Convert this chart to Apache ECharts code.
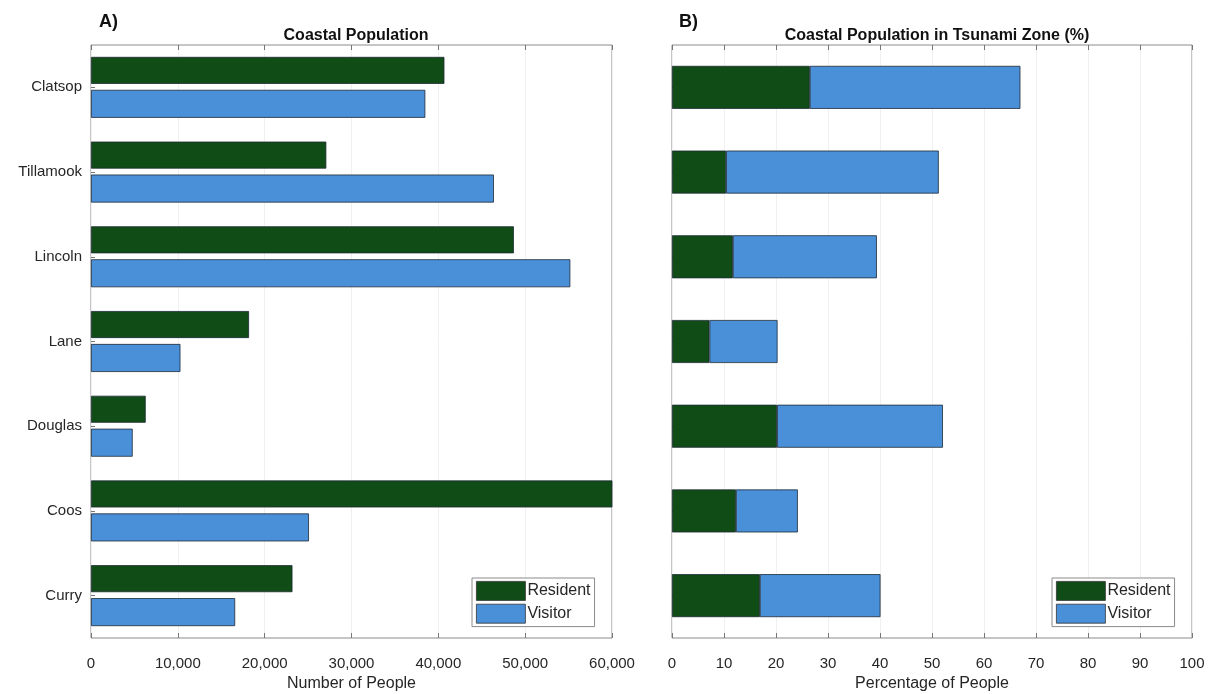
<!DOCTYPE html>
<html>
<head>
<meta charset="utf-8">
<script src="https://cdn.jsdelivr.net/npm/echarts@6/dist/echarts.min.js"></script>
<style>
html,body{margin:0;padding:0;background:#fff;}
#chart{width:1209px;height:694px;}
</style>
</head>
<body>
<div id="chart"></div>
<script>
// ---- data ----
const counties = ['Clatsop', 'Tillamook', 'Lincoln', 'Lane', 'Douglas', 'Coos', 'Curry'];
// Panel A: number of people
const residentCount = [40700, 27100, 48700, 18200, 6300, 62000, 23200];
const visitorCount  = [38500, 46400, 55200, 10300, 4800, 25100, 16600];
// Panel B: percentage of people in tsunami zone (stacked segments)
const residentPct = [26.5, 10.4, 11.7, 7.2, 20.2, 12.3, 16.9];
const visitorPct  = [40.5, 40.9, 27.7, 13.1, 31.9, 11.9, 23.2];
const xTicksA = [0, 10000, 20000, 30000, 40000, 50000, 60000];
const xTicksB = [0, 10, 20, 30, 40, 50, 60, 70, 80, 90, 100];

const GREEN = '#0f4c16';
const BLUE = '#4a90d9';
const EDGE = '#1e2a36';
const FONT = "'Liberation Sans', Arial, Helvetica, sans-serif";
const TXT = '#262626';

const chart = echarts.init(document.getElementById('chart'));

function valueAxis(gridIndex, ticks, fmt, name, top) {
  return {
    type: 'value', gridIndex: gridIndex,
    position: top ? 'top' : 'bottom',
    min: ticks[0], max: ticks[ticks.length - 1],
    interval: ticks[1] - ticks[0],
    name: top ? '' : name, nameLocation: 'middle', nameGap: 38,
    nameTextStyle: { fontFamily: FONT, fontSize: 16, color: TXT },
    axisLine: { show: false },
    axisTick: { show: true, inside: true, length: 5, lineStyle: { color: '#777' } },
    axisLabel: { show: !top, fontFamily: FONT, fontSize: 15, color: TXT, margin: 18, formatter: fmt },
    splitLine: { show: !top, lineStyle: { color: '#f0f0f0', width: 1 } }
  };
}
function catAxis(gridIndex, showLabels) {
  return {
    type: 'category', gridIndex: gridIndex, data: counties, inverse: true,
    axisLine: { show: false },
    axisTick: { show: true, inside: true, length: 4, alignWithLabel: true, lineStyle: { color: '#777' } },
    axisLabel: { show: showLabels, fontFamily: FONT, fontSize: 15, color: TXT, margin: 9, padding: [6, 0, 0, 0] },
    splitLine: { show: false }
  };
}

const legendCommon = {
  orient: 'vertical', icon: 'rect', itemWidth: 49, itemHeight: 19, itemGap: 3,
  backgroundColor: '#fff', borderColor: '#8a8a8a', borderWidth: 1,
  padding: [3, 4, 3, 4],
  itemStyle: { borderColor: '#333', borderWidth: 0.8 },
  textStyle: { fontFamily: FONT, fontSize: 16, color: TXT, padding: [0, 0, 0, -3] },
  data: ['Resident', 'Visitor'], selectedMode: false
};

chart.setOption({
  backgroundColor: '#fff',
  animation: false,
  title: [
    { text: 'A)', left: 94, top: 8, textStyle: { fontFamily: FONT, fontSize: 18, fontWeight: 'bold', color: '#111' } },
    { text: 'Coastal Population', left: 351, top: 23, textAlign: 'center', textStyle: { fontFamily: FONT, fontSize: 16, fontWeight: 'bold', color: '#111' } },
    { text: 'B)', left: 674, top: 8, textStyle: { fontFamily: FONT, fontSize: 18, fontWeight: 'bold', color: '#111' } },
    { text: 'Coastal Population in Tsunami Zone (%)', left: 932, top: 23, textAlign: 'center', textStyle: { fontFamily: FONT, fontSize: 16, fontWeight: 'bold', color: '#111' } }
  ],
  legend: [
    Object.assign({ left: 472, top: 578 }, legendCommon),
    Object.assign({ left: 1052, top: 578 }, legendCommon)
  ],
  grid: [
    { left: 91, top: 45, width: 521, height: 593, outerBoundsMode: 'none', containLabel: false, show: true, borderColor: '#8c8c8c', borderWidth: 1, backgroundColor: 'transparent' },
    { left: 672, top: 45, width: 520, height: 593, outerBoundsMode: 'none', containLabel: false, show: true, borderColor: '#8c8c8c', borderWidth: 1, backgroundColor: 'transparent' }
  ],
  xAxis: [
    valueAxis(0, xTicksA, v => v.toLocaleString('en-US'), 'Number of People', false),
    valueAxis(1, xTicksB, v => String(v), 'Percentage of People', false),
    valueAxis(0, xTicksA, null, '', true),
    valueAxis(1, xTicksB, null, '', true)
  ],
  yAxis: [catAxis(0, true), catAxis(1, false)],
  series: [
    { name: 'Resident', type: 'bar', xAxisIndex: 0, yAxisIndex: 0, data: residentCount,
      barWidth: 27, barGap: '22%', itemStyle: { color: GREEN, borderColor: EDGE, borderWidth: 0.8 } },
    { name: 'Visitor', type: 'bar', xAxisIndex: 0, yAxisIndex: 0, data: visitorCount,
      barWidth: 28, barGap: '22%', itemStyle: { color: BLUE, borderColor: EDGE, borderWidth: 0.8 } },
    { name: 'Resident', type: 'bar', xAxisIndex: 1, yAxisIndex: 1, stack: 'pct', data: residentPct,
      barWidth: 43, itemStyle: { color: GREEN, borderColor: EDGE, borderWidth: 0.8 } },
    { name: 'Visitor', type: 'bar', xAxisIndex: 1, yAxisIndex: 1, stack: 'pct', data: visitorPct,
      barWidth: 43, itemStyle: { color: BLUE, borderColor: EDGE, borderWidth: 0.8 } }
  ]
});
</script>
</body>
</html>
